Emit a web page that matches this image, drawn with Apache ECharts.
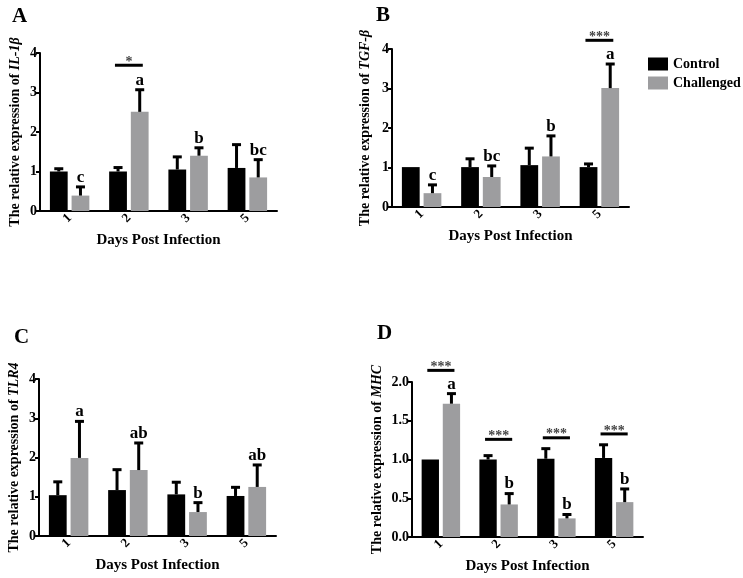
<!DOCTYPE html>
<html>
<head>
<meta charset="utf-8">
<script src="https://cdn.jsdelivr.net/npm/echarts@6/dist/echarts.min.js"></script>
<style>
  html, body { margin: 0; padding: 0; background: #fff; }
  #main { width: 743px; height: 578px; }
</style>
</head>
<body>
<div id="main"></div>
<script>
// x categories (days post infection)
var days = ['1', '2', '3', '5'];

// A: IL-1β
var il1bControl = [1.00, 1.00, 1.05, 1.09];
var il1bControlSd = [0.07, 0.10, 0.32, 0.59];
var il1bChallenged = [0.39, 2.51, 1.40, 0.85];
var il1bChallengedSd = [0.22, 0.56, 0.20, 0.45];
var il1bLetters = ['c', 'a', 'b', 'bc'];
var il1bSig = [[1, 3.69, '*']];

// B: TGF-β
var tgfControl = [1.01, 1.01, 1.06, 1.01];
var tgfControlSd = [0.00, 0.21, 0.43, 0.08];
var tgfChallenged = [0.35, 0.76, 1.28, 3.01];
var tgfChallengedSd = [0.21, 0.28, 0.52, 0.61];
var tgfLetters = ['c', 'bc', 'b', 'a'];
var tgfSig = [[3, 4.22, '***']];

// C: TLR4
var tlr4Control = [1.04, 1.17, 1.06, 1.02];
var tlr4ControlSd = [0.34, 0.52, 0.31, 0.22];
var tlr4Challenged = [1.99, 1.68, 0.61, 1.25];
var tlr4ChallengedSd = [0.93, 0.69, 0.24, 0.56];
var tlr4Letters = ['a', 'ab', 'b', 'ab'];
var tlr4Sig = [];

// D: MHC
var mhcControl = [1.00, 1.00, 1.01, 1.02];
var mhcControlSd = [0.01, 0.05, 0.13, 0.17];
var mhcChallenged = [1.72, 0.42, 0.24, 0.45];
var mhcChallengedSd = [0.13, 0.14, 0.05, 0.17];
var mhcLetters = ['a', 'b', 'b', 'b'];
var mhcSig = [[0, 2.15, '***'], [1, 1.26, '***'], [2, 1.28, '***'], [3, 1.33, '***']];

// y ticks
var ticks4 = [0, 1, 2, 3, 4];
var ticksMhc = [0, 0.5, 1.0, 1.5, 2.0];

var FONT = 'Liberation Serif';
var BLACK = '#000000';
var GRAY = '#9d9d9f';

var panels = [
    { gene: 'IL-1β', c: il1bControl, cs: il1bControlSd, t: il1bChallenged, ts: il1bChallengedSd, letters: il1bLetters, sig: il1bSig, ticks: ticks4, dec: 0,
      grid: { left: 40, top: 53, width: 237, height: 158 }, nameGap: 18 },
    { gene: 'TGF-β', c: tgfControl, cs: tgfControlSd, t: tgfChallenged, ts: tgfChallengedSd, letters: tgfLetters, sig: tgfSig, ticks: ticks4, dec: 0,
      grid: { left: 392, top: 49, width: 237, height: 158 }, nameGap: 20 },
    { gene: 'TLR4', c: tlr4Control, cs: tlr4ControlSd, t: tlr4Challenged, ts: tlr4ChallengedSd, letters: tlr4Letters, sig: tlr4Sig, ticks: ticks4, dec: 0,
      grid: { left: 39, top: 379, width: 237, height: 157 }, nameGap: 18 },
    { gene: 'MHC', c: mhcControl, cs: mhcControlSd, t: mhcChallenged, ts: mhcChallengedSd, letters: mhcLetters, sig: mhcSig, ticks: ticksMhc, dec: 1,
      grid: { left: 412, top: 382, width: 231, height: 155 }, nameGap: 28 }
];

/*error bars + letters*/
function errRender(letters) {
    return function(params, api) {
        var g = api.value(0), s = api.value(1), m = api.value(2), sd = api.value(3);
        var catW = api.size([1, 0])[0];
        var bw = catW * 0.3, off = bw * 1.22 / 2;
        var x = api.coord([g, 0])[0] + (s === 0 ? -off : off);
        var y0 = api.coord([g, m])[1], y1 = api.coord([g, m + sd])[1];
        var children = [];
        if (y0 - y1 > 1) {
            children.push({ type: 'line', shape: { x1: x, y1: y0, x2: x, y2: y1 }, style: { stroke: BLACK, lineWidth: 3 } });
            children.push({ type: 'line', shape: { x1: x - 4.5, y1: y1, x2: x + 4.5, y2: y1 }, style: { stroke: BLACK, lineWidth: 3 } });
        }
        if (s === 1) {
            children.push({ type: 'text', style: { text: letters[g], x: x, y: y1 - 1, align: 'center', verticalAlign: 'bottom',
                font: 'bold 17px "' + FONT + '"', fill: BLACK } });
        }
        return { type: 'group', children: children };
    };
}

/*significance lines*/
function sigRender(sig) {
    return function(params, api) {
        var g = api.value(0), v = api.value(1);
        var catW = api.size([1, 0])[0];
        var half = catW * 0.235;
        var p = api.coord([g, v]);
        return { type: 'group', children: [
            { type: 'line', shape: { x1: p[0] - half, y1: p[1], x2: p[0] + half, y2: p[1] }, style: { stroke: BLACK, lineWidth: 3 } },
            { type: 'text', style: { text: sig[params.dataIndex][2], x: p[0], y: p[1] + 4, align: 'center', verticalAlign: 'bottom',
                font: 'bold 14px "' + FONT + '"', fill: '#444' } }
        ] };
    };
}

var grids = [], xAxes = [], yAxes = [], series = [];
panels.forEach(function(p, i) {
    grids.push(p.grid);
    xAxes.push({
        gridIndex: i, type: 'category', data: days,
        name: 'Days Post Infection', nameLocation: 'middle', nameGap: 22,
        nameTextStyle: { fontFamily: FONT, fontWeight: 'bold', fontSize: 15, color: BLACK },
        axisLine: { lineStyle: { color: BLACK, width: 2 } },
        axisTick: { alignWithLabel: true, length: 5, lineStyle: { color: BLACK, width: 2 } },
        axisLabel: { rotate: 45, margin: 5, fontFamily: FONT, fontWeight: 'bold', fontSize: 13, color: BLACK }
    });
    yAxes.push({
        gridIndex: i, type: 'value', min: p.ticks[0], max: p.ticks[p.ticks.length - 1],
        interval: p.ticks[1] - p.ticks[0],
        name: 'The relative expression of {i|' + p.gene + '}', nameLocation: 'middle', nameGap: p.nameGap,
        nameTextStyle: { fontFamily: FONT, fontWeight: 'bold', fontSize: 14, color: BLACK,
            rich: { i: { fontFamily: FONT, fontWeight: 'bold', fontStyle: 'italic', fontSize: 14, color: BLACK } } },
        splitLine: { show: false },
        axisLine: { show: true, lineStyle: { color: BLACK, width: 2 } },
        axisTick: { show: true, length: 4, lineStyle: { color: BLACK, width: 2 } },
        axisLabel: { margin: 3, fontFamily: FONT, fontWeight: 'bold', fontSize: 14, color: BLACK,
            formatter: function(v) { return v.toFixed(p.dec); } }
    });
    series.push({ name: 'Control', type: 'bar', xAxisIndex: i, yAxisIndex: i, data: p.c,
        barWidth: '30%', barGap: '22%', itemStyle: { color: BLACK } });
    series.push({ name: 'Challenged', type: 'bar', xAxisIndex: i, yAxisIndex: i, data: p.t,
        barWidth: '30%', barGap: '22%', itemStyle: { color: GRAY } });
    var errData = [];
    for (var k = 0; k < days.length; k++) {
        errData.push([k, 0, p.c[k], p.cs[k]]);
        errData.push([k, 1, p.t[k], p.ts[k]]);
    }
    series.push({ type: 'custom', xAxisIndex: i, yAxisIndex: i, data: errData, renderItem: errRender(p.letters),
        z: 5, silent: true, clip: false, encode: { x: 0, y: 2 } });
    if (p.sig.length) {
        series.push({ type: 'custom', xAxisIndex: i, yAxisIndex: i,
            data: p.sig.map(function(d) { return [d[0], d[1]]; }),
            renderItem: sigRender(p.sig), z: 5, silent: true, clip: false, encode: { x: 0, y: 1 } });
    }
});

var chart = echarts.init(document.getElementById('main'));
chart.setOption({
    animation: false,
    backgroundColor: '#ffffff',
    grid: grids,
    xAxis: xAxes,
    yAxis: yAxes,
    legend: {
        data: ['Control', 'Challenged'], orient: 'vertical', left: 643, top: 52,
        itemWidth: 20, itemHeight: 13, itemGap: 5, icon: 'rect',
        textStyle: { fontFamily: FONT, fontWeight: 'bold', fontSize: 14, color: BLACK }
    },
    graphic: [
        { type: 'text', left: 12, top: 6, style: { text: 'A', font: 'bold 21px "' + FONT + '"', fill: BLACK } },
        { type: 'text', left: 376, top: 5, style: { text: 'B', font: 'bold 21px "' + FONT + '"', fill: BLACK } },
        { type: 'text', left: 14, top: 327, style: { text: 'C', font: 'bold 21px "' + FONT + '"', fill: BLACK } },
        { type: 'text', left: 377, top: 323, style: { text: 'D', font: 'bold 21px "' + FONT + '"', fill: BLACK } }
    ],
    series: series
});
</script>
</body>
</html>
